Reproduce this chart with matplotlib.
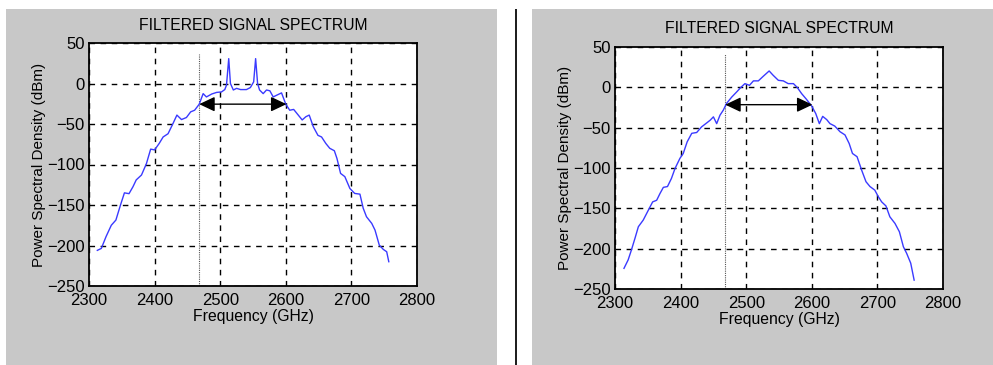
import matplotlib
matplotlib.use("Agg")
import matplotlib.pyplot as plt
from matplotlib.patches import Rectangle, FancyArrowPatch

# ---- data ----
left_freq = [2312.7, 2318.8, 2326, 2334, 2341, 2348, 2354, 2361, 2367, 2372, 2380, 2387.5,
             2394, 2400, 2407, 2413, 2420.5, 2428, 2434, 2441, 2448.5, 2455, 2461, 2468,
             2474, 2479, 2487, 2494.5, 2502, 2507, 2509.6, 2513, 2515.6, 2520, 2525, 2531,
             2540, 2546, 2551, 2554, 2557, 2560, 2565.5, 2570.6, 2575.7, 2580.8, 2586,
             2593.5, 2600, 2606, 2612, 2619, 2625, 2630.6, 2635.7, 2642, 2649, 2654.5,
             2661, 2667, 2674, 2678, 2683.5, 2690, 2697.7, 2705, 2713, 2718, 2723, 2731,
             2736, 2742.5, 2748.6, 2753.8, 2757]
left_psd = [-206, -203.6, -189, -175, -168.6, -150, -135, -136, -127.5, -119, -113, -99,
            -81, -82, -74, -66, -62, -49.5, -39, -44.5, -42, -35, -33, -25.6,
            -12.5, -16.6, -13, -11, -10.4, -7.5, -2, 30.7, 0, -8, -6, -7.5,
            -7.5, -5, 2, 30.7, 0, -8, -12.5, -8, -9, -16.6, -14.5,
            -11.6, -25.6, -33, -32, -39, -45, -41, -39, -53.5, -64, -66,
            -74, -80, -83, -92.6, -111, -115, -129.6, -135.7, -136.6, -154, -164.5, -172.7,
            -181, -199.5, -204.8, -207.7, -220]

right_freq = [2313.7, 2320, 2325, 2330.5, 2335.6, 2343, 2351, 2357.4, 2363.5, 2368.6, 2373.7,
              2380, 2386, 2391.5, 2399, 2404, 2410, 2417, 2424.5, 2432, 2440, 2445, 2450,
              2455, 2460, 2465, 2470, 2478, 2485.5, 2491.6, 2498, 2505, 2511, 2518.5, 2526,
              2535, 2541, 2549, 2556.6, 2564, 2572, 2578, 2584.5, 2592, 2600, 2606, 2611.5,
              2616.6, 2622.7, 2627.7, 2635, 2643, 2650.6, 2657, 2662, 2669, 2676, 2682.6,
              2688.7, 2696, 2701.5, 2706.5, 2713, 2719, 2726.8, 2733.5, 2739.6, 2744.6,
              2750.8, 2756]
right_psd = [-224.4, -214, -201.7, -187, -172.8, -164.6, -152, -142, -140, -131.6, -124,
             -123, -113, -100.6, -88, -82, -67.6, -57, -56, -49, -44, -40.8, -36.6,
             -45, -34.6, -28.4, -20, -12, -5.7, -0.3, 4.6, 2.5, 8, 8, 13.7,
             20.3, 15, 8.7, 8, 4.6, 4.6, -0.3, -7.8, -15, -23.4, -32.5, -45,
             -36, -40, -45, -48, -55, -59, -69.7, -82, -86, -102.7, -117,
             -123, -127.4, -135.7, -142, -147, -160.5, -168.7, -179, -197.6, -205.8,
             -218, -239]

x_ticks = [2300, 2400, 2500, 2600, 2700, 2800]
y_ticks = [-250, -200, -150, -100, -50, 0, 50]
title = "FILTERED SIGNAL SPECTRUM"
xlabel = "Frequency (GHz)"
ylabel = "Power Spectral Density (dBm)"

# marker line and bandwidth arrow (data coords)
marker_freq = 2467
left_marker_top = 36
right_marker_top = 41
arrow_start = 2468
arrow_end = 2601
left_arrow_y = -25.5
right_arrow_y = -21.5

W, H = 993, 365
fig = plt.figure(figsize=(W / 100, H / 100), dpi=100)
fig.patch.set_facecolor("white")
plt.rcParams['font.family'] = ['Liberation Sans', 'DejaVu Sans']

gray = "#c8c8c8"
def px_rect(x0, y0, x1, y1, color):
    fig.patches.append(Rectangle((x0 / W, 1 - y1 / H), (x1 - x0) / W, (y1 - y0) / H,
                                 transform=fig.transFigure, facecolor=color,
                                 edgecolor="none", zorder=-5))

px_rect(6, 9, 497, 365, gray)
px_rect(532, 9, 993, 365, gray)
px_rect(515, 9, 517, 365, "#202020")

panels = [
    ((89, 43, 417, 286), left_freq, left_psd, left_marker_top, left_arrow_y),
    ((615, 47, 943, 289), right_freq, right_psd, right_marker_top, right_arrow_y),
]

for (x0, y0, x1, y1), fx, py, mtop, ay in panels:
    ax = fig.add_axes([x0 / W, 1 - y1 / H, (x1 - x0) / W, (y1 - y0) / H])
    ax.set_zorder(1)
    ax.set_facecolor("white")
    ax.set_xlim(2300, 2800)
    ax.set_ylim(-250, 50)
    ax.set_xticks(x_ticks)
    ax.set_yticks(y_ticks)
    ax.tick_params(direction="in", length=0, labelsize=12, pad=3, colors="black")
    ax.tick_params(axis="x", pad=5)
    ax.grid(True, color="black", linestyle=(0, (4, 4)), linewidth=1.0)
    ax.set_axisbelow(True)
    for s in ax.spines.values():
        s.set_linewidth(1.3)
        s.set_color("black")
    ax.plot(fx, py, color="#3a3aff", linewidth=1.0, zorder=3)
    ax.plot([marker_freq, marker_freq], [-250, mtop], color="#555555",
            linestyle=(0, (1, 1)), linewidth=0.8, zorder=2)
    arr = FancyArrowPatch((arrow_start, ay), (arrow_end, ay),
                          arrowstyle="<|-|>,head_length=0.95,head_width=0.45",
                          mutation_scale=10, color="black", linewidth=1.0,
                          shrinkA=0, shrinkB=0, zorder=4)
    ax.add_patch(arr)
    ax.text(0.5, 1 + 18 / (y1 - y0), title, transform=ax.transAxes,
            ha="center", va="center", fontsize=11.3)
    ax.set_xlabel(xlabel, fontsize=11.3, labelpad=1)
    ax.set_ylabel(ylabel, fontsize=11, labelpad=1)

fig.savefig("out.png", dpi=100, facecolor="white")
